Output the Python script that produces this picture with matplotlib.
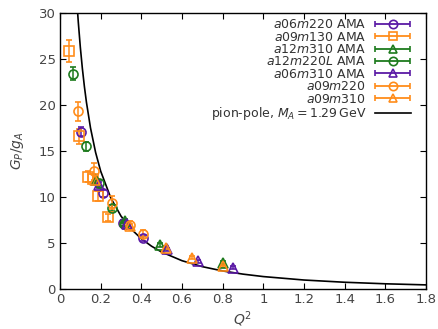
import numpy as np
import matplotlib
matplotlib.use("Agg")
import matplotlib.pyplot as plt
from matplotlib.legend_handler import HandlerErrorbar

plt.rcParams['font.family'] = ['DejaVu Sans']
plt.rcParams['mathtext.fontset'] = 'dejavusans'

PURPLE = "#5b1aa5"
ORANGE = "#ff8c1a"
GREEN = "#1e7b1e"

# ---- data ----
q_a06m220 = [0.103, 0.21, 0.31, 0.41]
v_a06m220 = [17.1, 10.4, 7.2, 5.5]
e_a06m220 = [0.5, 0.4, 0.3, 0.3]

q_a09m130 = [0.044, 0.094, 0.138, 0.16, 0.187, 0.237]
v_a09m130 = [25.9, 16.6, 12.2, 12.0, 10.1, 7.8]
e_a09m130 = [1.2, 0.8, 0.6, 0.5, 0.5, 0.4]

q_a12m310 = [0.175, 0.32, 0.49, 0.80]
v_a12m310 = [11.8, 7.4, 4.8, 2.8]
e_a12m310 = [0.3, 0.2, 0.2, 0.2]

q_a12m220L = [0.064, 0.13, 0.19, 0.255, 0.315]
v_a12m220L = [23.4, 15.5, 11.5, 8.8, 7.1]
e_a12m220L = [0.7, 0.5, 0.3, 0.3, 0.2]

q_a06m310 = [0.19, 0.33, 0.525, 0.68, 0.85]
v_a06m310 = [11.3, 7.1, 4.3, 3.0, 2.3]
e_a06m310 = [0.3, 0.2, 0.2, 0.15, 0.15]

q_a09m220 = [0.089, 0.167, 0.256, 0.345, 0.41]
v_a09m220 = [19.3, 12.8, 9.4, 7.0, 6.0]
e_a09m220 = [1.0, 0.9, 0.7, 0.4, 0.4]

q_a09m310 = [0.17, 0.345, 0.52, 0.65, 0.80]
v_a09m310 = [11.9, 6.9, 4.5, 3.4, 2.5]
e_a09m310 = [0.3, 0.2, 0.2, 0.15, 0.15]

# pion-pole curve values
q_pole = [0.08, 0.084, 0.09, 0.10, 0.11, 0.12, 0.13, 0.15, 0.175, 0.20, 0.25, 0.30,
          0.35, 0.40, 0.45, 0.50, 0.60, 0.70, 0.80, 0.90, 1.00, 1.20, 1.40, 1.60, 1.80]
v_pole = [32.28, 30.89, 29.0, 26.27, 23.97, 22.0, 20.30, 17.51, 14.85, 12.81, 9.89, 7.925,
          6.516, 5.465, 4.655, 4.015, 3.076, 2.429, 1.963, 1.616, 1.350, 0.976, 0.733, 0.566, 0.447]

xticks = [0, 0.2, 0.4, 0.6, 0.8, 1.0, 1.2, 1.4, 1.6, 1.8]
xticklabels = ["0", "0.2", "0.4", "0.6", "0.8", "1", "1.2", "1.4", "1.6", "1.8"]
yticks = [0, 5, 10, 15, 20, 25, 30]

series = [
    (q_a06m220, v_a06m220, e_a06m220, "$a06m220$ AMA", PURPLE, "o"),
    (q_a09m130, v_a09m130, e_a09m130, "$a09m130$ AMA", ORANGE, "s"),
    (q_a12m310, v_a12m310, e_a12m310, "$a12m310$ AMA", GREEN, "^"),
    (q_a12m220L, v_a12m220L, e_a12m220L, "$a12m220L$ AMA", GREEN, "o"),
    (q_a06m310, v_a06m310, e_a06m310, "$a06m310$ AMA", PURPLE, "^"),
    (q_a09m220, v_a09m220, e_a09m220, "$a09m220$", ORANGE, "o"),
    (q_a09m310, v_a09m310, e_a09m310, "$a09m310$", ORANGE, "^"),
]

fig = plt.figure(figsize=(4.39, 3.29), dpi=100)
ax = fig.add_axes([60/439, 1-289/329, (426-60)/439, (289-13)/329])

handles = []
labels = []
for q, v, e, lab, col, mk in series:
    ax.errorbar(q, v, yerr=e, fmt=mk, mfc='none', mec=col, ecolor=col, color=col,
                ms=6.5, mew=1.2, elinewidth=1.1, capsize=2.5, capthick=1.1, zorder=3)
    h = ax.errorbar([np.nan], [np.nan], xerr=[1], fmt=mk, mfc='none', mec=col, ecolor=col,
                    color=col, ms=6, mew=1.2, elinewidth=1.3, capsize=2.5, capthick=1.1)
    handles.append(h)
    labels.append(lab)

ln, = ax.plot(q_pole, v_pole, color='black', lw=1.2, zorder=2)
handles.append(ln)
labels.append("pion-pole, $M_A = 1.29\\,$GeV")

ax.set_xlim(0, 1.8)
ax.set_ylim(0, 30)
ax.set_xticks(xticks)
ax.set_xticklabels(xticklabels)
ax.set_yticks(yticks)
ax.tick_params(direction='in', top=True, right=True, length=4, width=0.8,
               labelsize=9.5, labelcolor='#444444', pad=3)
for s in ax.spines.values():
    s.set_linewidth(1.0)

ax.set_xlabel("$Q^2$", fontsize=10, color='#444444', labelpad=2)
ax.set_ylabel("$G_P/g_A$", fontsize=10, color='#444444', labelpad=9)

leg = ax.legend(handles, labels, loc='upper right', bbox_to_anchor=(1.0, 1.035),
                frameon=False, markerfirst=False,
                fontsize=9, handlelength=2.9, handletextpad=0.7, labelspacing=-0.05,
                borderaxespad=0.7, borderpad=0.5,
                handler_map={type(handles[0]): HandlerErrorbar(xerr_size=1.4)})
for t in leg.get_texts():
    t.set_color('#333333')

fig.savefig("out.png", dpi=100)
